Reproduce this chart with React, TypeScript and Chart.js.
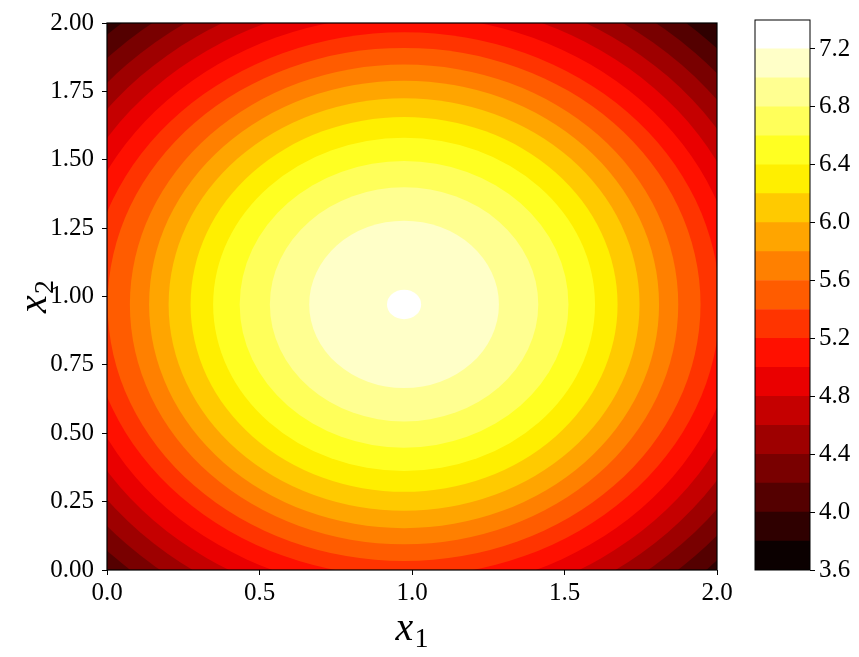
import React, { useEffect, useRef } from "react";
import { Chart, registerables } from "chart.js";

Chart.register(...registerables);

// Contour levels (band edges)
const levels = [3.6, 3.8, 4.0, 4.2, 4.4, 4.6, 4.8, 5.0, 5.2, 5.4, 5.6, 5.8, 6.0, 6.2, 6.4, 6.6, 6.8, 7.0, 7.2, 7.4];
// Each inner band edge (levels[1..18]) is a closed curve around the peak;
// half-widths along x1 and x2 (data units)
const boundaryLevels = [3.8, 4.0, 4.2, 4.4, 4.6, 4.8, 5.0, 5.2, 5.4, 5.6, 5.8, 6.0, 6.2, 6.4, 6.6, 6.8, 7.0, 7.2];
const halfWidthX1 = [1.476, 1.413, 1.35, 1.287, 1.224, 1.161, 1.098, 1.035, 0.972, 0.899, 0.836, 0.772, 0.7, 0.626, 0.539, 0.44, 0.311, 0.056];
const halfWidthX2 = [1.422, 1.361, 1.3, 1.239, 1.178, 1.117, 1.056, 0.995, 0.938, 0.877, 0.818, 0.754, 0.685, 0.609, 0.524, 0.428, 0.306, 0.054];
const peakX1 = 0.974;
const peakX2 = 0.971;

const xTicks = [0, 0.5, 1.0, 1.5, 2.0];
const yTicks = [0, 0.25, 0.5, 0.75, 1.0, 1.25, 1.5, 1.75, 2.0];
const cbTicks = [3.6, 4.0, 4.4, 4.8, 5.2, 5.6, 6.0, 6.4, 6.8, 7.2];

const FONT = '"Liberation Serif", "Times New Roman", serif';

// matplotlib "hot" colormap (256-entry LUT)
function interp(seg: number[][], x: number) {
  for (let i = 1; i < seg.length; i++) {
    if (x <= seg[i][0]) {
      const [x0, , y0] = seg[i - 1];
      const [x1, y1] = [seg[i][0], seg[i][1]];
      const t = x1 === x0 ? 0 : (x - x0) / (x1 - x0);
      return y0 + (y1 - y0) * t;
    }
  }
  return seg[seg.length - 1][2];
}
const hotR = [[0, 0.0416, 0.0416], [0.365079, 1, 1], [1, 1, 1]];
const hotG = [[0, 0, 0], [0.365079, 0, 0], [0.746032, 1, 1], [1, 1, 1]];
const hotB = [[0, 0, 0], [0.746032, 0, 0], [1, 1, 1]];
function hot(v: number) {
  let idx = Math.floor(v * 256);
  if (idx > 255) idx = 255;
  if (idx < 0) idx = 0;
  const x = idx / 255;
  const r = Math.round(interp(hotR, x) * 255);
  const g = Math.round(interp(hotG, x) * 255);
  const b = Math.round(interp(hotB, x) * 255);
  return `rgb(${r},${g},${b})`;
}
const nBands = levels.length - 1;
const bandColor = (i: number) => hot(i / (nBands - 1));

const contourPlugin = {
  id: "contour",
  beforeDatasetsDraw(chart: any) {
    const { ctx, chartArea: a, scales } = chart;
    const xs = scales.x;
    const ys = scales.y;
    ctx.save();
    ctx.beginPath();
    ctx.rect(a.left, a.top, a.right - a.left, a.bottom - a.top);
    ctx.clip();
    ctx.fillStyle = bandColor(0);
    ctx.fillRect(a.left, a.top, a.right - a.left, a.bottom - a.top);
    const cx = xs.getPixelForValue(peakX1);
    const cy = ys.getPixelForValue(peakX2);
    for (let k = 0; k < boundaryLevels.length; k++) {
      const band = levels.indexOf(boundaryLevels[k]);
      const rx = Math.abs(xs.getPixelForValue(peakX1 + halfWidthX1[k]) - cx);
      const ry = Math.abs(ys.getPixelForValue(peakX2 + halfWidthX2[k]) - cy);
      ctx.beginPath();
      ctx.ellipse(cx, cy, rx, ry, 0, 0, Math.PI * 2);
      ctx.fillStyle = bandColor(band);
      ctx.fill();
    }
    ctx.restore();
  },
  afterDraw(chart: any) {
    const { ctx, chartArea: a } = chart;
    ctx.save();
    ctx.strokeStyle = "#000";
    ctx.lineWidth = 1.2;
    ctx.strokeRect(a.left, a.top, a.right - a.left, a.bottom - a.top);
    ctx.fillStyle = "#000";
    ctx.textBaseline = "alphabetic";
    ctx.textAlign = "left";
    const drawLabel = (sub: string) => {
      ctx.font = `italic 40px ${FONT}`;
      const wx = ctx.measureText("x").width;
      ctx.font = `28px ${FONT}`;
      const ws = ctx.measureText(sub).width;
      const start = -(wx + ws + 1) / 2;
      ctx.font = `italic 40px ${FONT}`;
      ctx.fillText("x", start, 0);
      ctx.font = `28px ${FONT}`;
      ctx.fillText(sub, start + wx + 1, 7);
    };
    ctx.save();
    ctx.translate((a.left + a.right) / 2, 640);
    drawLabel("1");
    ctx.restore();
    ctx.save();
    ctx.translate(46, (a.top + a.bottom) / 2);
    ctx.rotate(-Math.PI / 2);
    drawLabel("2");
    ctx.restore();
    ctx.restore();
  },
};

const outlinePlugin = {
  id: "cbOutline",
  afterDatasetsDraw(chart: any) {
    const { ctx, chartArea: a } = chart;
    ctx.save();
    ctx.strokeStyle = "#000";
    ctx.lineWidth = 1;
    ctx.strokeRect(a.left, a.top, a.right - a.left, a.bottom - a.top);
    ctx.restore();
  },
};

const tickFont = { family: FONT, size: 25 };
const tickGrid = { display: true, drawOnChartArea: false, drawTicks: true, tickLength: 5, color: "#000", lineWidth: 1 };

export default function App() {
  const mainRef = useRef<HTMLCanvasElement>(null);
  const cbRef = useRef<HTMLCanvasElement>(null);

  useEffect(() => {
    const main = new Chart(mainRef.current as HTMLCanvasElement, {
      type: "scatter",
      data: { datasets: [{ data: [], pointRadius: 0 }] },
      options: {
        animation: false,
        responsive: false,
        devicePixelRatio: 1,
        layout: { padding: { left: 0, top: 20, right: 142, bottom: 0 } },
        plugins: { legend: { display: false }, tooltip: { enabled: false } },
        scales: {
          x: {
            type: "linear",
            min: 0,
            max: 2,
            afterBuildTicks: (s: any) => {
              s.ticks = xTicks.map((v) => ({ value: v }));
            },
            afterFit: (s: any) => {
              s.height = 87;
            },
            ticks: {
              callback: (v: any) => Number(v).toFixed(1),
              font: tickFont,
              color: "#000",
              padding: 3,
              maxRotation: 0,
              autoSkip: false,
            },
            grid: tickGrid,
            border: { display: false },
          },
          y: {
            type: "linear",
            min: 0,
            max: 2,
            afterBuildTicks: (s: any) => {
              s.ticks = yTicks.map((v) => ({ value: v }));
            },
            afterFit: (s: any) => {
              s.width = 107;
            },
            ticks: {
              callback: (v: any) => Number(v).toFixed(2),
              font: tickFont,
              color: "#000",
              padding: 8,
              autoSkip: false,
            },
            grid: tickGrid,
            border: { display: false },
          },
        },
      } as any,
      plugins: [contourPlugin],
    });

    const cb = new Chart(cbRef.current as HTMLCanvasElement, {
      type: "bar",
      data: {
        labels: [""],
        datasets: levels.slice(0, -1).map((lo, i) => ({
          data: [[lo, levels[i + 1]]],
          backgroundColor: bandColor(i),
          borderWidth: 0,
          barPercentage: 1,
          categoryPercentage: 1,
          grouped: false,
        })),
      } as any,
      options: {
        animation: false,
        responsive: false,
        devicePixelRatio: 1,
        layout: { padding: { left: 15, top: 20, right: 0, bottom: 87 } },
        plugins: { legend: { display: false }, tooltip: { enabled: false } },
        scales: {
          x: { display: false },
          y: {
            type: "linear",
            position: "right",
            min: levels[0],
            max: levels[levels.length - 1],
            afterBuildTicks: (s: any) => {
              s.ticks = cbTicks.map((v) => ({ value: v }));
            },
            afterFit: (s: any) => {
              s.width = 49;
            },
            ticks: {
              callback: (v: any) => Number(v).toFixed(1),
              font: tickFont,
              color: "#000",
              padding: 4,
              autoSkip: false,
            },
            grid: tickGrid,
            border: { display: false },
          },
        },
      } as any,
      plugins: [outlinePlugin],
    });

    return () => {
      main.destroy();
      cb.destroy();
    };
  }, []);

  return (
    <div style={{ position: "absolute", left: 0, top: 0, width: 859, height: 657, background: "#fff" }}>
      <canvas ref={mainRef} width={859} height={657} style={{ position: "absolute", left: 0, top: 0, width: 859, height: 657 }} />
      <canvas ref={cbRef} width={119} height={657} style={{ position: "absolute", left: 740, top: 0, width: 119, height: 657 }} />
    </div>
  );
}
